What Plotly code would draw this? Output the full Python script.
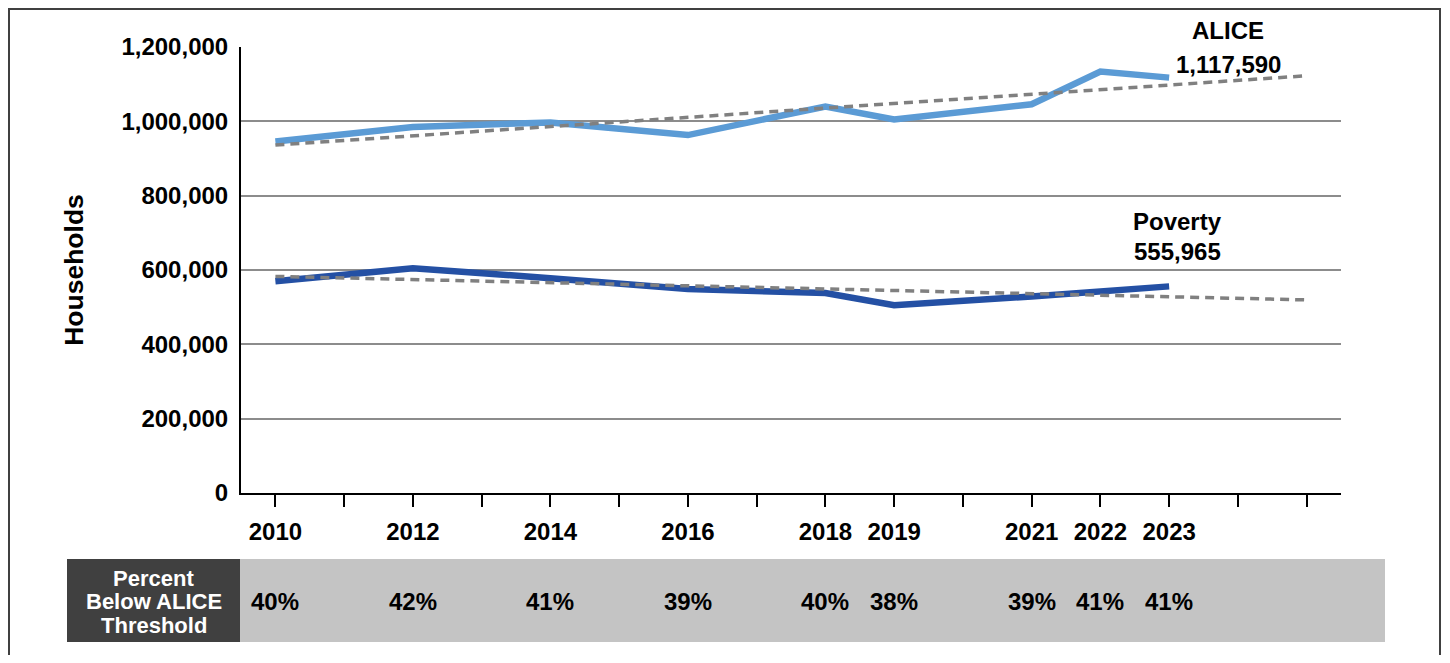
import numpy as np
import plotly.graph_objects as go

years = [2010, 2012, 2014, 2016, 2018, 2019, 2021, 2022, 2023]
alice = [946000, 985000, 997000, 963000, 1040000, 1005000, 1046000, 1134000, 1117590]
poverty = [570000, 605000, 578000, 549000, 538000, 505000, 529000, 541000, 555965]
pct_below = ["40%", "42%", "41%", "39%", "40%", "38%", "39%", "41%", "41%"]
pct_title = ["Percent", "Below ALICE", "Threshold"]
trend_years = list(range(2010, 2026))
y_ticks = [0, 200000, 400000, 600000, 800000, 1000000, 1200000]

FONT = "Liberation Sans, Arial, sans-serif"
OFF = 8  # page body margin
W, H = 1450 - 2 * OFF, 663 - 2 * OFF
PL, PT, PB = 241, 47, 493  # plot-area edges in page pixels
PW, PH = 1100, PB - PT
L, T = PL - OFF, PT - OFF
R = W - L - PW
B = H - T - PH


def px_x(px):
    return (px - PL) / PW


def px_y(py):
    return (PB - py) / PH


def trend(vals):
    k, b = np.polyfit(years, vals, 1)
    return [k * t + b for t in trend_years]


fig = go.Figure()
fig.add_trace(go.Scatter(x=years, y=alice, mode="lines",
                         line=dict(color="#5B9BD5", width=6.5), hoverinfo="skip"))
fig.add_trace(go.Scatter(x=years, y=poverty, mode="lines",
                         line=dict(color="#2450A4", width=6.5), hoverinfo="skip"))
fig.add_trace(go.Scatter(x=trend_years, y=trend(alice), mode="lines",
                         line=dict(color="#808080", width=3.5, dash="9px,6px"), hoverinfo="skip"))
fig.add_trace(go.Scatter(x=trend_years, y=trend(poverty), mode="lines",
                         line=dict(color="#808080", width=3.5, dash="9px,6px"), hoverinfo="skip"))

tickvals = list(range(2010, 2026))
ticktext = [str(y) if y in years else "" for y in tickvals]

fig.update_xaxes(range=[2009.5, 2025.5], tickvals=tickvals, ticktext=ticktext,
                 showgrid=False, zeroline=False, showline=True, linecolor="black", linewidth=2,
                 ticks="outside", ticklen=12, tickwidth=2, tickcolor="black",
                 ticklabelstandoff=4,
                 tickfont=dict(family=FONT, size=24, color="black", weight="bold"))
fig.update_yaxes(range=[0, 1200000], tickvals=y_ticks,
                 ticktext=[f"{v:,}" for v in y_ticks],
                 showgrid=True, gridcolor="#8c8c8c", gridwidth=1.5, zeroline=False,
                 showline=True, linecolor="black", linewidth=2, ticks="", ticklabelstandoff=6,
                 tickfont=dict(family=FONT, size=24, color="black", weight="bold"),
                 title=dict(text="Households", standoff=30,
                            font=dict(family=FONT, size=26.5, color="black", weight="bold")))

shapes = [
    dict(type="rect", xref="paper", yref="paper", x0=px_x(9), x1=px_x(1440), y0=px_y(700), y1=px_y(9),
         line=dict(color="#404040", width=2), fillcolor="rgba(0,0,0,0)", layer="below"),
    dict(type="rect", xref="paper", yref="paper", x0=px_x(240), x1=px_x(1385), y0=px_y(642), y1=px_y(559),
         line=dict(width=0), fillcolor="#C4C4C4", layer="below"),
    dict(type="rect", xref="paper", yref="paper", x0=px_x(67), x1=px_x(240), y0=px_y(642), y1=px_y(559),
         line=dict(width=0), fillcolor="#404040", layer="below"),
]


def note(text, x, y, size=24, color="black", xref="paper"):
    return dict(text=text, xref=xref, yref="paper", x=x, y=y, showarrow=False,
                xanchor="center", yanchor="middle", align="center",
                font=dict(family=FONT, size=size, color=color, weight="bold"))


annots = [
    note("ALICE", px_x(1228), px_y(31)),
    note(f"{alice[-1]:,}", px_x(1228), px_y(64)),
    note("Poverty", px_x(1177), px_y(221)),
    note(f"{poverty[-1]:,}", px_x(1177), px_y(251)),
]
for i, line in enumerate(pct_title):
    annots.append(note(line, px_x(153.5), px_y(578 + 23.5 * i), size=22, color="white"))
for yr, p in zip(years, pct_below):
    annots.append(note(p, yr, px_y(601), size=24, xref="x"))

fig.update_layout(width=W, height=H, margin=dict(l=L, r=R, t=T, b=B),
                  paper_bgcolor="white", plot_bgcolor="white", showlegend=False,
                  shapes=shapes, annotations=annots)

fig.write_html("out.html")
